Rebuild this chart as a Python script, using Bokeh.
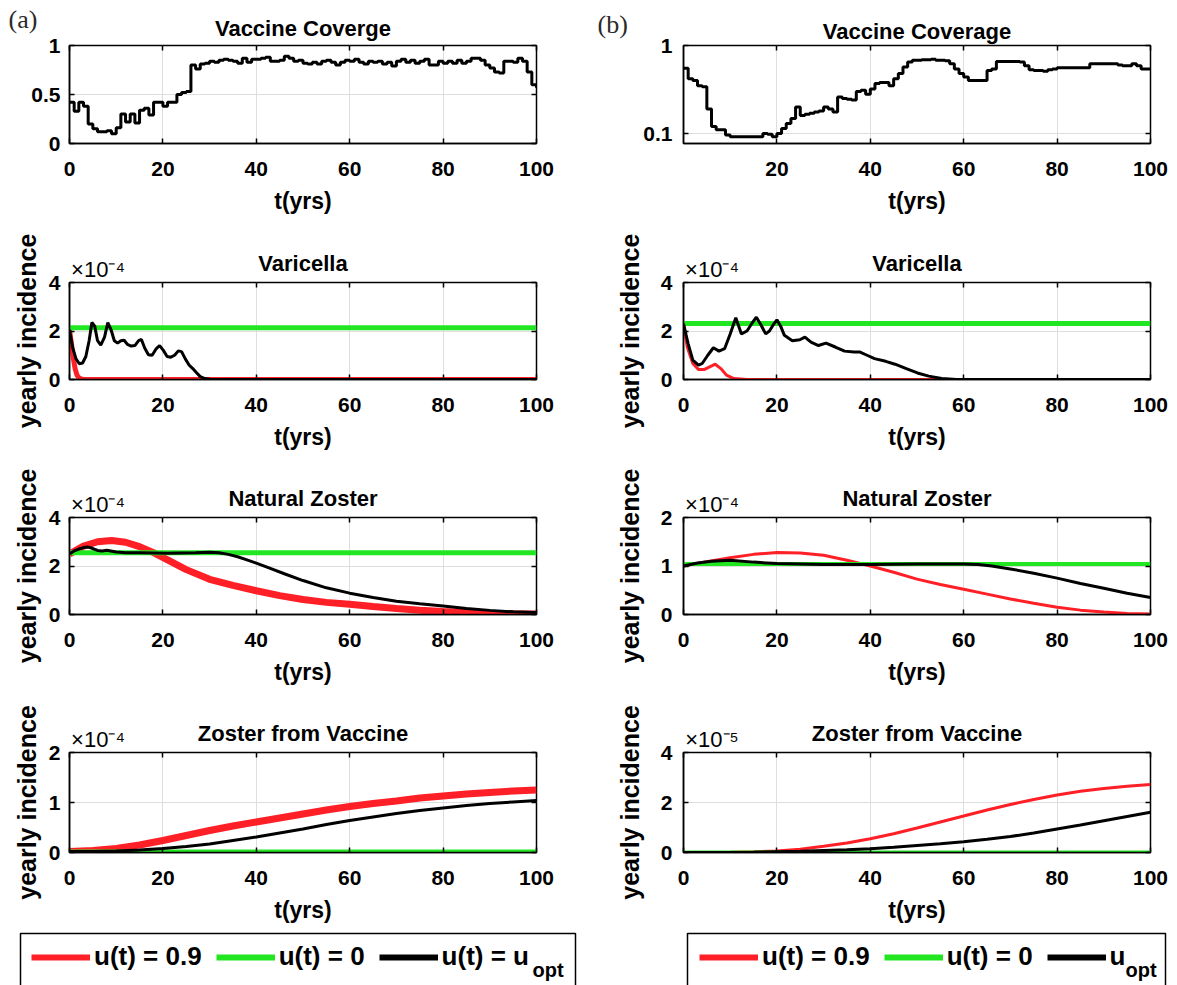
import numpy as np
from bokeh.plotting import figure
from bokeh.models import (Range1d, FixedTicker, LinearAxis, LogAxis, Label, Legend, LegendItem,
                          CustomJSTickFormatter, BoxAnnotation, Title)
from bokeh.layouts import column, row
from bokeh.embed import file_html
from bokeh.resources import INLINE

FONT = "Liberation Sans"
RED = "#ff1f26"
GREEN = "#22e622"
BLACK = "#000000"

# ---------------- data ----------------
years = list(range(101))
coverage_a = [0.42, 0.33, 0.42, 0.38, 0.20, 0.15, 0.12, 0.12, 0.13, 0.10,
              0.16, 0.30, 0.22, 0.30, 0.21, 0.34, 0.36, 0.29, 0.42, 0.42,
              0.38, 0.42, 0.42, 0.50, 0.52, 0.53, 0.80, 0.76, 0.81, 0.82,
              0.84, 0.83, 0.85, 0.86, 0.85, 0.84, 0.82, 0.87, 0.83, 0.86,
              0.86, 0.87, 0.88, 0.84, 0.84, 0.85, 0.89, 0.87, 0.84, 0.85,
              0.82, 0.81, 0.83, 0.81, 0.84, 0.85, 0.83, 0.80, 0.83, 0.85,
              0.84, 0.86, 0.83, 0.81, 0.84, 0.83, 0.84, 0.81, 0.83, 0.79,
              0.84, 0.86, 0.83, 0.85, 0.82, 0.84, 0.86, 0.80, 0.80, 0.84,
              0.82, 0.84, 0.82, 0.85, 0.82, 0.84, 0.87, 0.87, 0.85, 0.80,
              0.77, 0.73, 0.72, 0.84, 0.84, 0.83, 0.87, 0.84, 0.73, 0.60, 0.57]
coverage_b = [0.55, 0.42, 0.40, 0.35, 0.34, 0.19, 0.12, 0.11, 0.11, 0.096,
              0.092, 0.092, 0.092, 0.092, 0.092, 0.092, 0.092, 0.10, 0.098, 0.092,
              0.10, 0.114, 0.13, 0.148, 0.20, 0.16, 0.165, 0.17, 0.175, 0.18,
              0.20, 0.19, 0.175, 0.26, 0.25, 0.245, 0.24, 0.30, 0.31, 0.28,
              0.32, 0.37, 0.38, 0.38, 0.35, 0.42, 0.48, 0.57, 0.65, 0.68,
              0.68, 0.69, 0.69, 0.70, 0.68, 0.68, 0.67, 0.62, 0.54, 0.48,
              0.44, 0.40, 0.40, 0.40, 0.40, 0.52, 0.54, 0.66, 0.66, 0.66,
              0.66, 0.66, 0.65, 0.59, 0.53, 0.52, 0.52, 0.51, 0.53, 0.54,
              0.56, 0.56, 0.56, 0.56, 0.56, 0.56, 0.56, 0.62, 0.62, 0.62,
              0.62, 0.62, 0.62, 0.60, 0.59, 0.59, 0.62, 0.59, 0.54, 0.54, 0.54]

# Varicella (x1e-4)
var_a_red_t = [0, 0.4, 0.8, 1.2, 1.6, 2.0, 2.5, 3.0, 100]
var_a_red = [2.05, 1.5, 0.9, 0.45, 0.18, 0.07, 0.02, 0.0, 0.0]
var_a_green_t = [0, 100]
var_a_green = [2.13, 2.13]
var_a_black_t = [0, 0.7, 1.4, 2.1, 2.8, 3.5, 4.2, 4.8, 5.4, 6.0, 6.7, 7.5, 8.2, 8.9, 9.6, 10.3,
                 11.0, 11.7, 12.4, 13.2, 14.0, 14.8, 15.4, 16.1, 16.9, 17.7, 18.5, 19.3, 20.1,
                 20.9, 21.7, 22.5, 23.3, 24.0, 24.8, 25.6, 26.4, 27.2, 28.0, 29.0, 30.0, 31.5, 100]
var_a_black = [2.05, 1.3, 0.85, 0.65, 0.68, 0.95, 1.6, 2.35, 2.2, 1.6, 1.42, 1.75, 2.35, 2.05, 1.6, 1.5,
               1.6, 1.62, 1.45, 1.38, 1.4, 1.6, 1.65, 1.3, 1.02, 1.0, 1.25, 1.4, 1.2,
               0.95, 0.92, 1.0, 1.18, 1.15, 0.85, 0.6, 0.45, 0.28, 0.12, 0.04, 0.01, 0.0, 0.0]

var_b_red_t = [0, 0.8, 2.0, 3.2, 4.4, 5.6, 6.8, 8.0, 9.2, 10.8, 13.6, 100]
var_b_red = [2.3, 1.34, 0.66, 0.41, 0.41, 0.52, 0.63, 0.45, 0.18, 0.04, 0.0, 0.0]
var_b_green_t = [0, 100]
var_b_green = [2.31, 2.31]
var_b_black_t = [0, 1.0, 2.0, 3.2, 4.0, 5.2, 6.4, 7.6, 8.8, 10.0, 11.2, 12.4, 13.6, 14.6, 15.6, 16.6,
                 17.6, 18.4, 19.2, 20.0, 20.8, 21.6, 23.3, 24.9, 26.0, 27.3, 28.9, 30.5, 32.5, 34.5,
                 36.5, 37.8, 39.3, 40.9, 43.3, 45.3, 47.7, 50.1, 52.5, 55.3, 58.5, 62, 100]
var_b_black = [2.3, 1.47, 0.8, 0.59, 0.66, 1.0, 1.31, 1.17, 1.27, 1.88, 2.55, 1.88, 2.0, 2.3, 2.57, 2.25,
               1.88, 2.0, 2.25, 2.46, 2.2, 1.82, 1.6, 1.64, 1.75, 1.54, 1.4, 1.5, 1.34, 1.17,
               1.13, 1.13, 1.0, 0.86, 0.75, 0.63, 0.45, 0.27, 0.14, 0.04, 0.0, 0.0, 0.0]

# Natural zoster (x1e-4)
nz_a_red_t = [0, 3, 6, 9, 12, 15, 18, 21, 25, 30, 35, 40, 45, 50, 55, 60, 65, 70, 75, 80, 85, 90, 95, 100]
nz_a_red = [2.5, 2.82, 3.0, 3.05, 2.98, 2.8, 2.55, 2.25, 1.85, 1.45, 1.2, 0.98, 0.78, 0.62, 0.5,
            0.42, 0.33, 0.25, 0.18, 0.12, 0.08, 0.05, 0.03, 0.02]
nz_a_green_t = [0, 100]
nz_a_green = [2.55, 2.55]
nz_a_black_t = [0, 1, 2, 3, 4, 5, 6, 7, 8, 10, 12, 15, 18, 21, 24, 27, 30, 32, 34, 36, 38, 40, 43,
                46, 50, 55, 60, 65, 70, 75, 80, 85, 90, 95, 100]
nz_a_black = [2.5, 2.62, 2.7, 2.76, 2.78, 2.72, 2.64, 2.62, 2.65, 2.58, 2.55, 2.55, 2.54, 2.53, 2.54,
              2.55, 2.57, 2.55, 2.48, 2.38, 2.25, 2.12, 1.9, 1.68, 1.4, 1.1, 0.88, 0.7, 0.55, 0.44,
              0.35, 0.25, 0.17, 0.11, 0.08]

nz_b_red_t = [0, 5, 10, 15, 20, 25, 30, 35, 40, 45, 50, 55, 60, 65, 70, 75, 80, 85, 90, 95, 100]
nz_b_red = [1.0, 1.09, 1.17, 1.24, 1.28, 1.27, 1.22, 1.12, 1.0, 0.87, 0.73, 0.62, 0.52, 0.42, 0.32,
            0.23, 0.15, 0.09, 0.05, 0.02, 0.01]
nz_b_green_t = [0, 100]
nz_b_green = [1.04, 1.04]
nz_b_black_t = [0, 3, 6, 10, 15, 20, 30, 40, 50, 60, 63, 66, 70, 75, 80, 85, 90, 95, 100]
nz_b_black = [1.0, 1.06, 1.1, 1.12, 1.08, 1.05, 1.03, 1.03, 1.04, 1.04, 1.03, 1.0, 0.94, 0.85, 0.75,
              0.64, 0.54, 0.44, 0.35]

# Zoster from vaccine (a: x1e-4, b: x1e-5)
zv_t = [0, 5, 10, 15, 20, 25, 30, 35, 40, 45, 50, 55, 60, 65, 70, 75, 80, 85, 90, 95, 100]
zv_a_red = [0.02, 0.04, 0.08, 0.15, 0.24, 0.34, 0.44, 0.53, 0.61, 0.69, 0.77, 0.85, 0.92, 0.98, 1.03,
            1.09, 1.13, 1.17, 1.2, 1.23, 1.25]
zv_a_green = [0.0] * 21
zv_a_black = [0.02, 0.02, 0.03, 0.05, 0.08, 0.12, 0.17, 0.24, 0.31, 0.39, 0.47, 0.56, 0.64, 0.71,
              0.78, 0.84, 0.89, 0.94, 0.98, 1.01, 1.04]
zv_b_red = [0.0, 0.0, 0.01, 0.03, 0.06, 0.13, 0.25, 0.38, 0.55, 0.75, 0.98, 1.22, 1.46, 1.7, 1.92,
            2.12, 2.3, 2.45, 2.56, 2.65, 2.72]
zv_b_green = [0.0] * 21
zv_b_black = [0.0, 0.0, 0.0, 0.01, 0.03, 0.05, 0.08, 0.11, 0.15, 0.21, 0.28, 0.35, 0.43, 0.53, 0.64,
              0.78, 0.94, 1.1, 1.27, 1.44, 1.61]

x_ticks = [0, 20, 40, 60, 80, 100]
x_ticks_b1 = [20, 40, 60, 80, 100]
legend_labels_a = ["u(t) = 0.9", "u(t) = 0", "u(t) = u"]
legend_labels_b = ["u(t) = 0.9", "u(t) = 0", "u"]

# ---------------- layout constants (page px, body margin is 0) ----------------
FW = 467
COLS = {"a": dict(bl=69, br=59, ylab_so=5, ytick_so=9, w=595, mult_x=6.1),
        "b": dict(bl=88, br=27, ylab_so=14, ytick_so=11, w=582, mult_x=6.1)}
ROWS = [dict(bt=45, fh=98, bb=79), dict(bt=60, fh=97, bb=78),
        dict(bt=60, fh=97, bb=78), dict(bt=60, fh=100, bb=75)]


def style_title(ax, text, standoff):
    ax.axis_label = text
    ax.axis_label_standoff = standoff
    ax.axis_label_text_font = FONT
    ax.axis_label_text_font_style = "bold"
    ax.axis_label_text_font_size = "22px"
    ax.axis_label_text_color = "black"


def empty_axis(cls, ticker):
    ax = cls(ticker=ticker, formatter=CustomJSTickFormatter(code="return ''"))
    ax.axis_line_color = None
    ax.major_tick_in = 5
    ax.major_tick_out = 0
    ax.major_tick_line_width = 1.5
    ax.minor_tick_line_color = None
    ax.major_label_text_font_size = "0px"
    ax.major_label_standoff = 0
    return ax


def panel(col, r, title, yr, yticks, xticks=x_ticks, log=False, ylabel=True,
          title_so=-22, mult=None, tag=None, tag_offset=0, tag_so=-36):
    c = COLS[col]
    rr = ROWS[r]
    fh = rr["fh"]
    p = figure(frame_width=FW, frame_height=fh,
               min_border_left=c["bl"], min_border_right=c["br"],
               min_border_top=rr["bt"], min_border_bottom=rr["bb"],
               x_range=Range1d(0, 100), y_range=Range1d(*yr),
               y_axis_type="log" if log else "linear", title=None,
               toolbar_location=None, output_backend="svg")
    p.outline_line_color = "black"
    p.outline_line_width = 1.5
    p.background_fill_color = "white"
    p.border_fill_color = "white"
    xt = FixedTicker(ticks=xticks)
    yt = FixedTicker(ticks=yticks)
    fmt = CustomJSTickFormatter(code="return String(tick)")
    xa = p.below[0]
    ya = p.left[0]
    xa.ticker = xt
    ya.ticker = yt
    xa.formatter = fmt
    ya.formatter = fmt
    p.xgrid.ticker = xt
    p.ygrid.ticker = yt
    p.grid.grid_line_color = "#dedede"
    p.grid.grid_line_width = 1
    for ax, so in ((xa, 18), (ya, c["ytick_so"])):
        ax.axis_line_color = "black"
        ax.axis_line_width = 1.5
        ax.major_tick_in = 5
        ax.major_tick_out = 0
        ax.major_tick_line_width = 1.5
        ax.minor_tick_line_color = None
        ax.major_label_text_font = FONT
        ax.major_label_text_font_style = "bold"
        ax.major_label_text_font_size = "21px"
        ax.major_label_text_color = "black"
        ax.major_label_standoff = so
        ax.axis_label_text_font = FONT
        ax.axis_label_text_font_style = "bold"
        ax.axis_label_text_font_size = "23px"
        ax.axis_label_text_color = "black"
    xa.axis_label = "t(yrs)"
    xa.axis_label_standoff = 9
    if ylabel:
        ya.axis_label = "yearly incidence"
        ya.axis_label_standoff = c["ylab_so"]
        ya.axis_label_text_font_size = "25px"
    # inward ticks on the opposite sides (box style)
    top = empty_axis(LinearAxis, xt)
    p.add_layout(top, "above")
    p.add_layout(empty_axis(LogAxis if log else LinearAxis, yt), "right")
    if mult is not None:
        # exponent multiplier at the top-left corner, panel title centred above
        m = LinearAxis(ticker=FixedTicker(ticks=[c["mult_x"]]),
                       formatter=CustomJSTickFormatter(code="return '%s'" % mult))
        m.axis_line_color = None
        m.major_tick_in = 0
        m.major_tick_out = 0
        m.minor_tick_line_color = None
        m.major_label_standoff = 1
        m.major_label_text_font = FONT
        m.major_label_text_font_style = "normal"
        m.major_label_text_font_size = "22px"
        m.major_label_text_color = "black"
        style_title(m, title, title_so)
        p.add_layout(m, "above")
    else:
        style_title(top, title, title_so)
    if tag is not None:
        p.add_layout(Title(text=tag, align="left", offset=tag_offset, standoff=tag_so,
                           text_font="Liberation Serif", text_font_style="normal",
                           text_font_size="26px", text_color="#2b2b2b"), "above")
    return p


def three_lines(p, t_r, y_r, t_g, y_g, t_k, y_k, wr, wg, wk):
    p.line(t_r, y_r, line_color=RED, line_width=wr)
    p.line(t_g, y_g, line_color=GREEN, line_width=wg)
    p.line(t_k, y_k, line_color=BLACK, line_width=wk)


MULT4 = "\u00d710\u207b\u2074"
MULT5 = "\u00d710\u207b\u2075"

# Row 1
a1 = panel("a", 0, "Vaccine Coverge", (0, 1), [0, 0.5, 1], ylabel=False, title_so=5,
           tag="(a)", tag_offset=-61, tag_so=-42)
a1.step(years, coverage_a, mode="after", line_color=BLACK, line_width=3)
b1 = panel("b", 0, "Vaccine Coverage", (0.077, 1), [0.1, 1], xticks=x_ticks_b1, log=True,
           ylabel=False, title_so=2, tag="(b)", tag_offset=-86, tag_so=-46)
b1.step(years, coverage_b, mode="after", line_color=BLACK, line_width=3)

# Row 2
a2 = panel("a", 1, "Varicella", (0, 4), [0, 2, 4], mult=MULT4)
three_lines(a2, var_a_red_t, var_a_red, var_a_green_t, var_a_green, var_a_black_t, var_a_black, 5, 5, 3)
b2 = panel("b", 1, "Varicella", (0, 4), [0, 2, 4], mult=MULT4)
three_lines(b2, var_b_red_t, var_b_red, var_b_green_t, var_b_green, var_b_black_t, var_b_black, 3, 5, 3)

# Row 3
a3 = panel("a", 2, "Natural Zoster", (0, 4), [0, 2, 4], mult=MULT4)
three_lines(a3, nz_a_red_t, nz_a_red, nz_a_green_t, nz_a_green, nz_a_black_t, nz_a_black, 7, 5, 3)
b3 = panel("b", 2, "Natural Zoster", (0, 2), [0, 1, 2], mult=MULT4)
three_lines(b3, nz_b_red_t, nz_b_red, nz_b_green_t, nz_b_green, nz_b_black_t, nz_b_black, 3, 4, 3)

# Row 4
a4 = panel("a", 3, "Zoster from Vaccine", (0, 2), [0, 1, 2], mult=MULT4)
three_lines(a4, zv_t, zv_a_red, zv_t, zv_a_green, zv_t, zv_a_black, 7, 6, 3)
b4 = panel("b", 3, "Zoster from Vaccine", (0, 4), [0, 2, 4], mult=MULT5)
three_lines(b4, zv_t, zv_b_red, zv_t, zv_b_green, zv_t, zv_b_black, 3, 4, 3)


# Legends
LH = 58


def legend_fig(w, labels, box_l, box_r, loc_x, opt_x):
    p = figure(width=w, height=LH, x_range=Range1d(0, w), y_range=Range1d(0, LH),
               x_axis_type=None, y_axis_type=None, min_border=0, title=None,
               toolbar_location=None, output_backend="svg")
    p.outline_line_color = None
    p.background_fill_color = "white"
    p.border_fill_color = "white"
    rs = [p.line([np.nan, np.nan], [np.nan, np.nan], line_color=c, line_width=6)
          for c in (RED, GREEN, BLACK)]
    items = [LegendItem(label=l, renderers=[r]) for l, r in zip(labels, rs)]
    leg = Legend(items=items, location=(loc_x, 13), orientation="horizontal", padding=0,
                 spacing=14, margin=0, glyph_width=59, glyph_height=28, label_height=28,
                 label_standoff=4, label_text_font=FONT, label_text_font_style="bold",
                 label_text_font_size="26px", label_text_color="black",
                 border_line_color=None, background_fill_alpha=0)
    p.add_layout(leg)
    p.add_layout(BoxAnnotation(left=box_l, right=box_r, bottom=-30, top=LH - 6,
                               fill_alpha=0, line_color="black", line_alpha=1.0,
                               line_width=1.5))
    p.add_layout(Label(x=opt_x, y=16, text="opt", text_align="left", text_baseline="middle",
                       text_font=FONT, text_font_style="bold", text_font_size="20px",
                       text_color="black"))
    return p


la = legend_fig(COLS["a"]["w"], legend_labels_a, 20, 575, 31, 532)
lb = legend_fig(COLS["b"]["w"], legend_labels_b, 92, 570, 104, 530)

layout = column(row(a1, b1), row(a2, b2), row(a3, b3), row(a4, b4), row(la, lb))

with open("out.html", "w", encoding="utf-8") as f:
    f.write(file_html(layout, INLINE, title="Vaccine coverage"))
